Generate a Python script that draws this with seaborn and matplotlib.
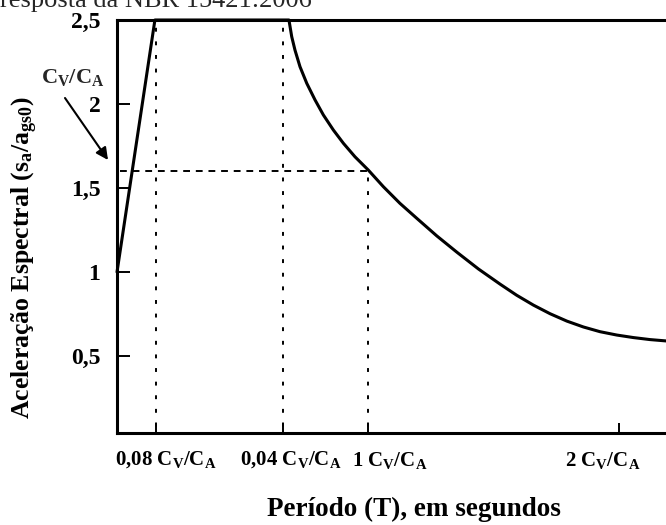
import matplotlib
matplotlib.use("Agg")
import matplotlib.pyplot as plt
import seaborn as sns
import pandas as pd

# ---- data ----
period_T = [0.0, 0.151, 0.685, 0.696, 0.709, 0.729, 0.756, 0.789, 0.822, 0.862,
            0.902, 0.948, 1.001, 1.061, 1.127, 1.194, 1.274, 1.354, 1.440,
            1.526, 1.592, 1.659, 1.725, 1.792, 1.858, 1.924, 1.991, 2.057,
            2.123, 2.187]
spectral_acc = [1.0, 2.5, 2.5, 2.401, 2.321, 2.222, 2.123, 2.024, 1.935, 1.845,
                1.766, 1.686, 1.607, 1.508, 1.409, 1.320, 1.215, 1.118, 1.018,
                0.928, 0.862, 0.803, 0.752, 0.708, 0.673, 0.645, 0.625, 0.610,
                0.598, 0.590]

ref_T_a = 0.155     # first vertical dotted line
ref_T_b = 0.661     # second vertical dotted line
ref_T_1 = 1.0       # third vertical dotted line (up to the reference value)
ref_S = 1.6         # horizontal dashed line

x_tick_marks = [0.155, 0.661, 1.0, 2.0]
x_label_pos = [0.195, 0.693, 1.088, 1.936]
x_tick_labels = ["0,08 C$_\\mathregular{V}$/C$_\\mathregular{A}$",
                 "0,04 C$_\\mathregular{V}$/C$_\\mathregular{A}$",
                 "1 C$_\\mathregular{V}$/C$_\\mathregular{A}$",
                 "2 C$_\\mathregular{V}$/C$_\\mathregular{A}$"]
y_tick_pos = [0.5, 1.0, 1.5, 2.0, 2.5]
y_tick_labels = ["0,5", "1", "1,5", "2", "2,5"]

title_text = "resposta da NBR 15421:2006"
x_label = "Período (T), em segundos"
y_label = "Aceleração Espectral (s$_\\mathregular{a}$/a$_\\mathregular{gs0}$)"
annot_text = "C$_\\mathregular{V}$/C$_\\mathregular{A}$"

# ---- style ----
sns.set_theme(style="white")
plt.rcParams["font.family"] = ["Liberation Serif", "DejaVu Serif"]
plt.rcParams["font.weight"] = "bold"
plt.rcParams["mathtext.fontset"] = "custom"
plt.rcParams["mathtext.rm"] = "Liberation Serif:bold"
plt.rcParams["mathtext.it"] = "Liberation Serif:bold"
plt.rcParams["mathtext.bf"] = "Liberation Serif:bold"

DPI = 100
fig = plt.figure(figsize=(6.66, 5.25), dpi=DPI)
ax = fig.add_axes([117 / 666, 92 / 525, 549 / 666, 413 / 525])

df = pd.DataFrame({"T": period_T, "S": spectral_acc})
sns.lineplot(data=df, x="T", y="S", ax=ax, color="black", linewidth=2.2,
             sort=False, estimator=None, clip_on=False)
for ln in ax.lines:
    ln.set_solid_joinstyle("round")
    ln.set_solid_capstyle("round")

# reference lines
ax.plot([ref_T_a, ref_T_a], [0, 2.5], color="black", lw=1.4, ls=(0, (2, 5)))
ax.plot([ref_T_b, ref_T_b], [0, 2.5], color="black", lw=1.4, ls=(0, (2, 5)))
ax.plot([ref_T_1, ref_T_1], [0, ref_S], color="black", lw=1.4, ls=(0, (2, 5)))
ax.plot([0.01, ref_T_1], [ref_S, ref_S], color="black", lw=1.4, ls=(0, (3.5, 3)))

ax.set_xlim(0, 2.187)
ax.set_ylim(0.042, 2.5)

# labels on major ticks (no marks), marks on minor ticks
ax.set_xticks(x_label_pos)
ax.set_xticklabels(x_tick_labels, fontsize=15, fontweight="bold")
ax.set_xticks(x_tick_marks, minor=True)
ax.set_yticks(y_tick_pos)
ax.set_yticklabels(y_tick_labels, fontsize=17, fontweight="bold")

ax.tick_params(axis="y", which="major", direction="in", length=9.4, width=1.4,
               pad=12, left=True, colors="black")
ax.tick_params(axis="x", which="major", direction="in", length=0, pad=12,
               bottom=True, colors="black")
ax.tick_params(axis="x", which="minor", direction="in", length=7, width=1.4,
               bottom=True, colors="black")

for side in ["left", "bottom", "top"]:
    ax.spines[side].set_visible(True)
    ax.spines[side].set_linewidth(2.2)
    ax.spines[side].set_color("black")
ax.spines["right"].set_visible(False)

ax.set_xlabel(x_label, fontsize=19.5, fontweight="bold", color="black")
ax.xaxis.set_label_coords((414 - 117) / 549, -(497 - 433) / 413)
ax.set_ylabel(y_label, fontsize=18.5, fontweight="bold", color="black")
ax.yaxis.set_label_coords(-(117 - 40) / 549, (433 - 258) / 413)

# annotation with arrow
fig.text(73 / 666, 1 - 78 / 525, annot_text, fontsize=16, fontweight="bold",
         ha="center", va="center")
ax.annotate("", xy=(108, 525 - 160), xycoords="figure pixels",
            xytext=(65, 525 - 98), textcoords="figure pixels",
            arrowprops=dict(arrowstyle="-|>", lw=1.5, color="black",
                            mutation_scale=18, shrinkA=0, shrinkB=0))

# partially cropped title
fig.text(0.0, 1 - 7 / 525, title_text, fontsize=19, fontweight="normal",
         family=["Liberation Serif"], ha="left", va="baseline")

fig.savefig("out.png", dpi=DPI)
